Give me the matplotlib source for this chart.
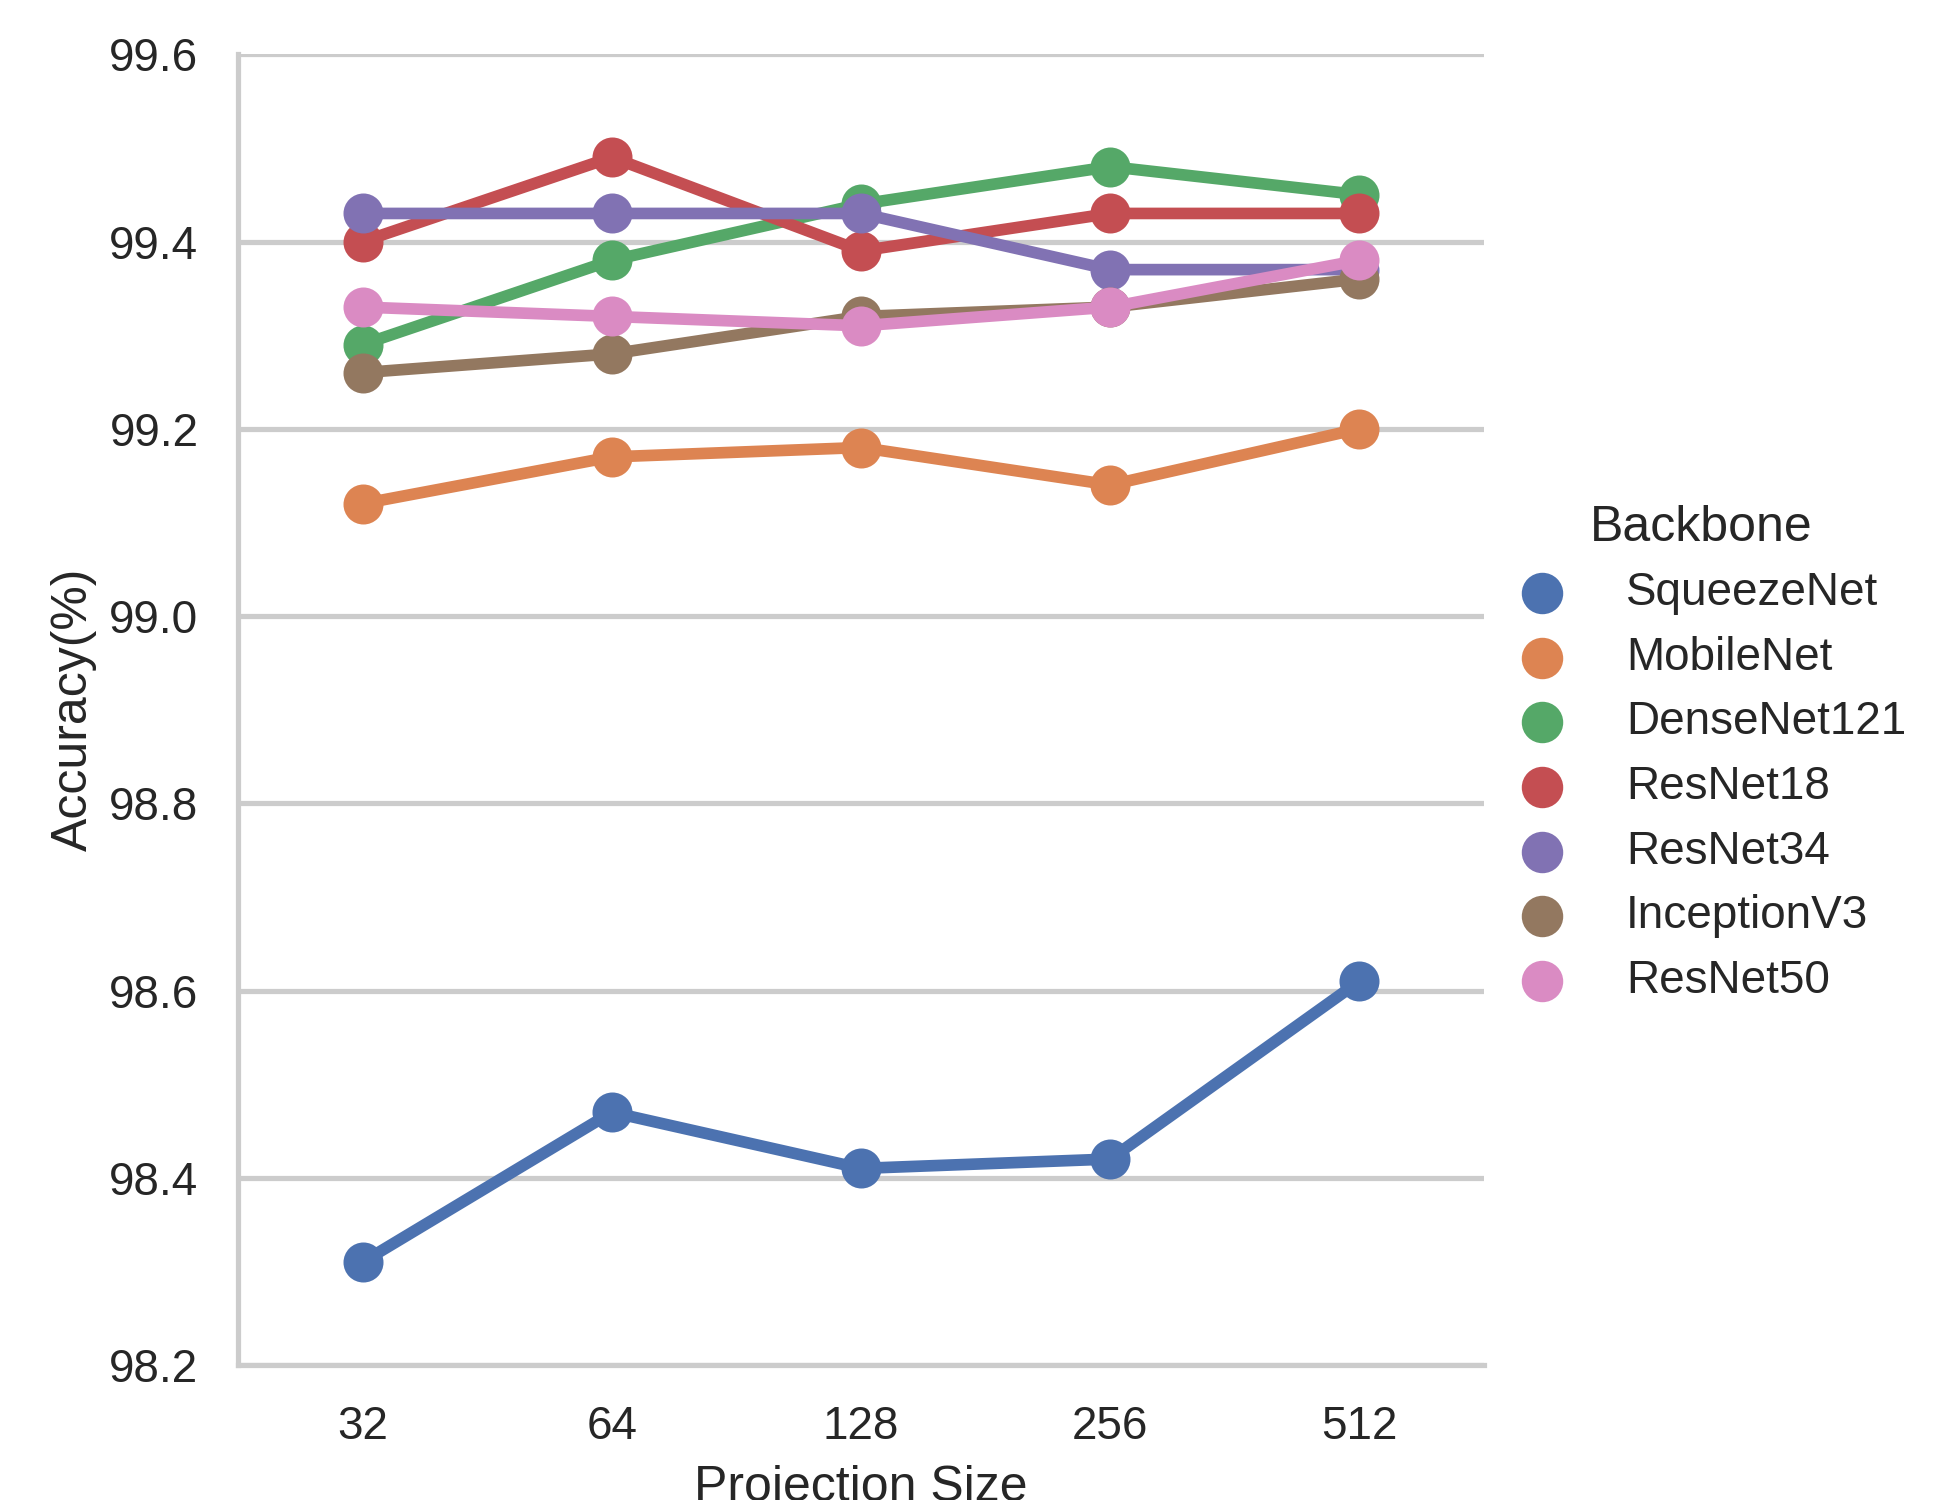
import matplotlib
matplotlib.use("Agg")
import matplotlib.pyplot as plt
import seaborn as sns

sizes = ["32", "64", "128", "256", "512"]
backbones = ["SqueezeNet", "MobileNet", "DenseNet121", "ResNet18", "ResNet34", "InceptionV3", "ResNet50"]
squeezenet = [98.31, 98.47, 98.41, 98.42, 98.61]
mobilenet = [99.12, 99.17, 99.18, 99.14, 99.20]
densenet121 = [99.29, 99.38, 99.44, 99.48, 99.45]
resnet18 = [99.40, 99.49, 99.39, 99.43, 99.43]
resnet34 = [99.43, 99.43, 99.43, 99.37, 99.37]
inceptionv3 = [99.26, 99.28, 99.32, 99.33, 99.36]
resnet50 = [99.33, 99.32, 99.31, 99.33, 99.38]
series = [squeezenet, mobilenet, densenet121, resnet18, resnet34, inceptionv3, resnet50]
yticks = [98.2, 98.4, 98.6, 98.8, 99.0, 99.2, 99.4, 99.6]

sns.set_theme(style="whitegrid", context="notebook")
plt.rcParams["font.family"] = ["Liberation Sans", "DejaVu Sans"]

palette = sns.color_palette("deep", len(backbones))

fig = plt.figure(figsize=(1945 / 300, 1500 / 300), dpi=300)
ax = fig.add_axes([0.1224, 0.09, 0.6406, 0.8738])

handles = []
for name, vals, col in zip(backbones, series, palette):
    ax.plot(sizes, vals, color=col, lw=2.8, marker="o", ms=8.6, zorder=3)
    h = ax.scatter([], [], color=col, s=80, label=name)
    handles.append(h)

ax.set_xlim(-0.5, len(sizes) - 0.5)
ax.set_ylim(98.2, 99.6)
ax.set_yticks(yticks)
ax.set_yticklabels([f"{t:.1f}" for t in yticks])
ax.grid(axis="x", visible=False)
ax.grid(axis="y", color=".8", lw=1.25)
for s in ["top", "right"]:
    ax.spines[s].set_visible(False)
for s in ["left", "bottom"]:
    ax.spines[s].set_color(".8")
    ax.spines[s].set_linewidth(1.25)
ax.tick_params(axis="both", labelsize=11, length=0, pad=9.5)
ax.set_xlabel("Projection Size", fontsize=12, labelpad=4)
ax.set_ylabel("Accuracy(%)", fontsize=12, labelpad=3)

leg = fig.legend(handles=handles, labels=backbones, title="Backbone",
                 loc="center left", bbox_to_anchor=(0.748, 0.4975),
                 frameon=False, fontsize=11, title_fontsize=12,
                 labelspacing=0.45, handletextpad=0.83, markerscale=1.0)

fig.savefig("out.png", dpi=300)
